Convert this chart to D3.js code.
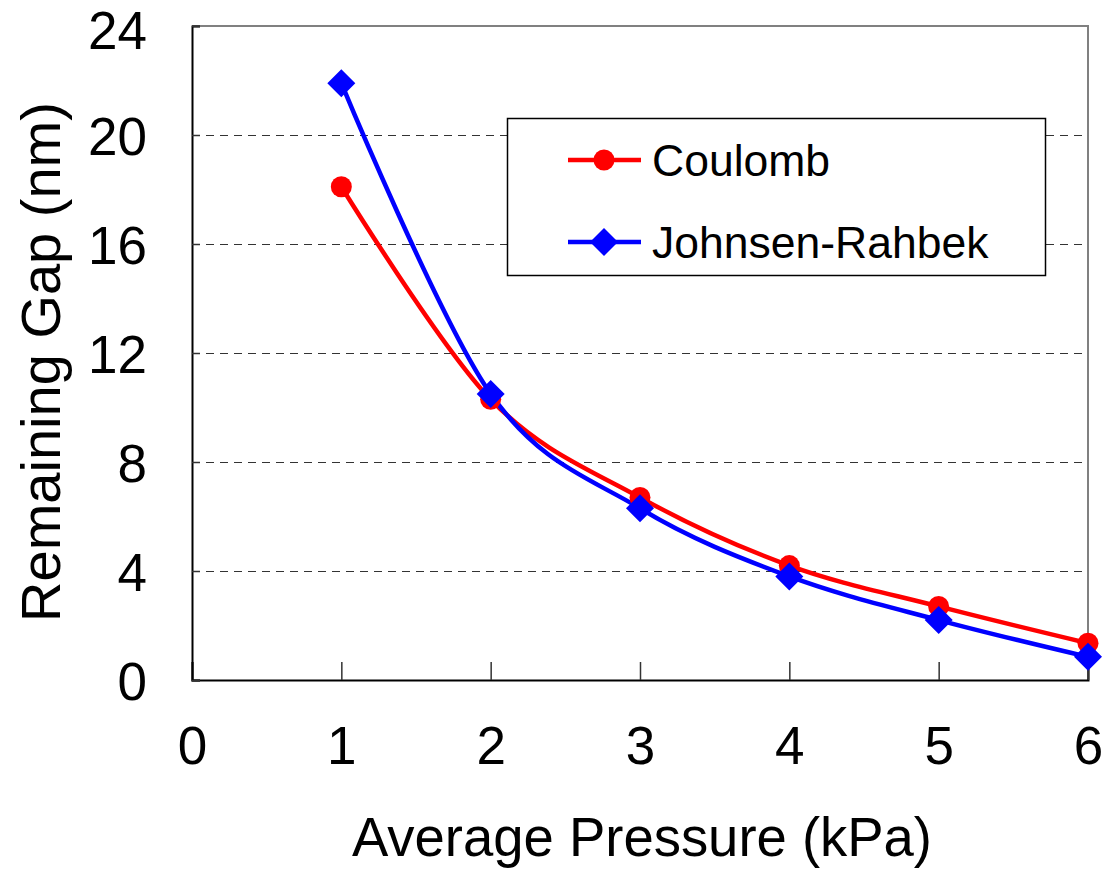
<!DOCTYPE html>
<html>
<head>
<meta charset="utf-8">
<script src="https://cdn.jsdelivr.net/npm/d3@7"></script>
<style>
  html, body { margin: 0; padding: 0; background: #fff; }
  svg { display: block; }
  text { font-family: "Liberation Sans", Arial, sans-serif; fill: #000; }
</style>
</head>
<body>
<svg id="chart" width="1104" height="871"></svg>
<script>
const pressure = [1, 2, 3, 4, 5, 6];
const coulomb = [18.1, 10.3, 6.7, 4.2, 2.7, 1.35];
const johnsenRahbek = [21.9, 10.5, 6.3, 3.8, 2.2, 0.85];
const seriesNames = ["Coulomb", "Johnsen-Rahbek"];
const xTicks = [0, 1, 2, 3, 4, 5, 6];
const yTicks = [0, 4, 8, 12, 16, 20, 24];
const xTitle = "Average Pressure (kPa)";
const yTitle = "Remaining Gap (nm)";

(function () {
const svg = d3.select("#chart");
const pL = 192, pR = 1088, pT = 26, pB = 680;

const x = d3.scaleLinear().domain([0, 6]).range([pL, pR]);
const y = d3.scaleLinear().domain([0, 24]).range([pB, pT]);

// gridlines
svg.append("g").selectAll("line")
  .data(yTicks.filter(d => d > 0 && d < 24))
  .join("line")
  .attr("x1", pL).attr("x2", pR)
  .attr("y1", d => Math.round(y(d)) + 0.5).attr("y2", d => Math.round(y(d)) + 0.5)
  .attr("stroke", "#333").attr("stroke-width", 1.2)
  .attr("stroke-dasharray", "8,6");

// frame top/right (grey)
svg.append("path")
  .attr("d", `M${pL},${pT}H${pR}V${pB}`)
  .attr("fill", "none").attr("stroke", "#808080").attr("stroke-width", 2);

// x axis
const xAxis = d3.axisBottom(x).tickValues(xTicks).tickSize(-18).tickPadding(46).tickFormat(d3.format("d"));
const gx = svg.append("g").attr("transform", `translate(0,${pB})`).call(xAxis);
gx.select(".domain").attr("stroke", "#000").attr("stroke-width", 2);
gx.selectAll(".tick line").attr("stroke", "#333").attr("stroke-width", 1.5);
gx.selectAll("text").style("font-size", "53px").attr("font-family", null);

// y axis
const yAxis = d3.axisLeft(y).tickValues(yTicks).tickSize(-8).tickPadding(45).tickFormat(d3.format("d"));
const gy = svg.append("g").attr("transform", `translate(${pL},0)`).call(yAxis);
gy.select(".domain").attr("stroke", "#000").attr("stroke-width", 2);
gy.selectAll(".tick line").attr("stroke", "#333").attr("stroke-width", 1.5);
gy.selectAll("text").style("font-size", "53px").attr("font-family", null)
  .attr("dy", d => d === 24 ? "0.43em" : "0.36em");

// titles
svg.append("text").attr("x", 642).attr("y", 856)
  .attr("text-anchor", "middle").style("font-size", "56px")
  .attr("textLength", 580).attr("lengthAdjust", "spacingAndGlyphs").text(xTitle);
svg.append("text").attr("transform", `translate(60,${362}) rotate(-90)`)
  .attr("text-anchor", "middle").style("font-size", "56px").text(yTitle);

const line = d3.line().x(d => x(d[0])).y(d => y(d[1])).curve(d3.curveCatmullRom.alpha(0));

const series = [
  { name: seriesNames[0], values: coulomb, color: "#ff0000", marker: "circle" },
  { name: seriesNames[1], values: johnsenRahbek, color: "#0000ff", marker: "diamond" }
];

function drawMarker(g, type, color) {
  if (type === "circle") {
    g.append("circle").attr("r", 10.5).attr("fill", color);
  } else {
    g.append("path").attr("d", "M0,-14L14,0L0,14L-14,0Z").attr("fill", color);
  }
}

series.forEach(s => {
  const pts = pressure.map((p, i) => [p, s.values[i]]);
  svg.append("path").datum(pts).attr("d", line)
    .attr("fill", "none").attr("stroke", s.color).attr("stroke-width", 4.5)
    .attr("stroke-linejoin", "round");
});
series.forEach(s => {
  const pts = pressure.map((p, i) => [p, s.values[i]]);
  pts.forEach(pt => {
    const g = svg.append("g").attr("transform", `translate(${x(pt[0])},${y(pt[1])})`);
    drawMarker(g, s.marker, s.color);
  });
});

// legend
const lg = svg.append("g");
lg.append("rect").attr("x", 507.5).attr("y", 118.5).attr("width", 538).attr("height", 157)
  .attr("fill", "#fff").attr("stroke", "#000").attr("stroke-width", 1.5);
series.forEach((s, i) => {
  const cy = 160 + i * 82;
  lg.append("line").attr("x1", 568).attr("x2", 641).attr("y1", cy).attr("y2", cy)
    .attr("stroke", s.color).attr("stroke-width", 4.5);
  const g = lg.append("g").attr("transform", `translate(604,${cy})`);
  drawMarker(g, s.marker, s.color);
  lg.append("text").attr("x", 652).attr("y", cy).attr("dy", "0.36em")
    .style("font-size", "44.5px").text(s.name);
});
})();
</script>
</body>
</html>
